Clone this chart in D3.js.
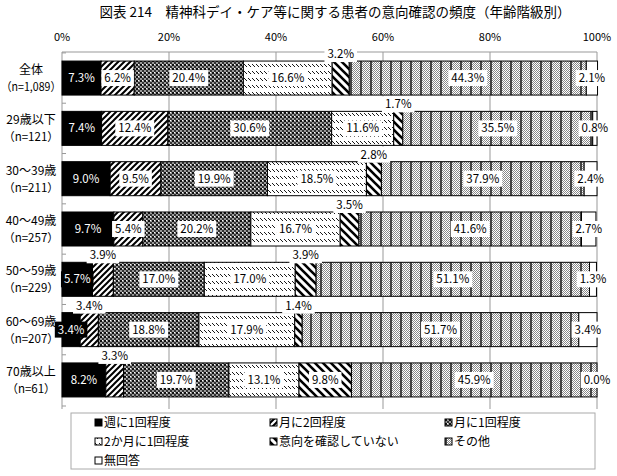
<!DOCTYPE html>
<html>
<head>
<meta charset="utf-8">
<script src="https://cdn.jsdelivr.net/npm/d3@7"></script>
<style>
body { margin: 0; background: #fff; }
text { font-family: "Noto Sans CJK JP", "Noto Sans", sans-serif; }
</style>
</head>
<body>
<svg id="chart" width="617" height="476"></svg>
<script>
// data
var categories = ["全体", "29歳以下", "30～39歳", "40～49歳", "50～59歳", "60～69歳", "70歳以上"];
var counts = ["（n=1,089）", "（n=121）", "（n=211）", "（n=257）", "（n=229）", "（n=207）", "（n=61）"];
var seriesNames = ["週に1回程度", "月に2回程度", "月に1回程度", "2か月に1回程度", "意向を確認していない", "その他", "無回答"];
var weekly   = [7.3, 7.4, 9.0, 9.7, 5.7, 3.4, 8.2];
var twiceMon = [6.2, 12.4, 9.5, 5.4, 3.9, 3.4, 3.3];
var onceMon  = [20.4, 30.6, 19.9, 20.2, 17.0, 18.8, 19.7];
var bimonth  = [16.6, 11.6, 18.5, 16.7, 17.0, 17.9, 13.1];
var notAsked = [3.2, 1.7, 2.8, 3.5, 3.9, 1.4, 9.8];
var other    = [44.3, 35.5, 37.9, 41.6, 51.1, 51.7, 45.9];
var noAnswer = [2.1, 0.8, 2.4, 2.7, 1.3, 3.4, 0.0];
var tickValues = [0, 20, 40, 60, 80, 100];

var seriesValues = [weekly, twiceMon, onceMon, bimonth, notAsked, other, noAnswer];

var svg = d3.select("#chart");
var defs = svg.append("defs");

// fill patterns, one per series
function pat(id, w, h, build){
    var p = defs.append("pattern").attr("id", id)
        .attr("patternUnits", "userSpaceOnUse")
        .attr("width", w).attr("height", h);
    build(p);
}
pat("p1", 6, 6, function(p){
    p.append("rect").attr("width", 6).attr("height", 6).attr("fill", "#fff");
    p.append("path").attr("d", "M-1,7 L7,-1 M-4,4 L4,-4 M2,10 L10,2")
        .attr("stroke", "#000").attr("stroke-width", 2);
});
pat("p2", 4, 4, function(p){
    p.append("rect").attr("width", 4).attr("height", 4).attr("fill", "#999");
    p.append("rect").attr("width", 2).attr("height", 2).attr("fill", "#111");
    p.append("rect").attr("x", 2).attr("y", 2).attr("width", 2).attr("height", 2).attr("fill", "#333");
    p.append("rect").attr("x", 2).attr("y", 0).attr("width", 1).attr("height", 1).attr("fill", "#fff");
});
pat("p3", 4, 7, function(p){
    p.append("rect").attr("width", 4).attr("height", 7).attr("fill", "#fff");
    p.append("path").attr("d", "M0,1 L3,4")
        .attr("stroke", "#000").attr("stroke-width", 0.9);
});
pat("p4", 8, 8, function(p){
    p.append("rect").attr("width", 8).attr("height", 8).attr("fill", "#fff");
    p.append("path").attr("d", "M-2,2 L2,-2 M0,0 L8,8 M-4,4 L4,12 M4,-4 L12,4")
        .attr("stroke", "#000").attr("stroke-width", 2.6);
});
pat("p5", 10, 2, function(p){
    p.append("rect").attr("width", 10).attr("height", 2).attr("fill", "#fff");
    [0, 2, 4, 6, 8].forEach(function(x){
        p.append("rect").attr("x", x).attr("y", 0).attr("width", 1).attr("height", 1).attr("fill", "#888");
        p.append("rect").attr("x", x + 1).attr("y", 1).attr("width", 1).attr("height", 1).attr("fill", "#888");
    });
    p.append("rect").attr("x", 0).attr("y", 0).attr("width", 2).attr("height", 2).attr("fill", "#444");
});
var fills = ["#000", "url(#p1)", "url(#p2)", "url(#p3)", "url(#p4)", "url(#p5)", "#fff"];

var x = d3.scaleLinear().domain([0, 100]).range([62, 597]);
var y = d3.scaleBand().domain(categories).range([52, 406])
    .paddingInner(0.324).paddingOuter(0.18);

// title
svg.append("text")
    .attr("x", 335).attr("y", 17)
    .attr("text-anchor", "middle")
    .style("font-size", "13.5px").style("font-weight", "normal")
    .text("図表 214　精神科デイ・ケア等に関する患者の意向確認の頻度（年齢階級別）");

// gridlines + top axis labels
svg.append("g").selectAll("line")
    .data(tickValues).enter().append("line")
    .attr("x1", function(d){ return x(d); })
    .attr("x2", function(d){ return x(d); })
    .attr("y1", 52).attr("y2", 409)
    .attr("stroke", "#999").attr("stroke-width", 1);
svg.append("line")
    .attr("x1", x(0)).attr("x2", x(100)).attr("y1", 52).attr("y2", 52)
    .attr("stroke", "#999");
svg.append("g").selectAll("line")
    .data(categories.concat([""])).enter().append("line")
    .attr("x1", x(0)).attr("x2", x(0) + 4)
    .attr("y1", function(d, i){ return i < categories.length ? y(d) - y.step() * y.paddingInner() / 2 : 406; })
    .attr("y2", function(d, i){ return i < categories.length ? y(d) - y.step() * y.paddingInner() / 2 : 406; })
    .attr("stroke", "#999");
svg.append("g").selectAll("text")
    .data(tickValues).enter().append("text")
    .attr("x", function(d){ return x(d); })
    .attr("y", 41)
    .attr("text-anchor", "middle")
    .style("font-size", "11px")
    .text(function(d){ return d + "%"; });

// category labels
var cat = svg.append("g").selectAll("g")
    .data(categories).enter().append("g");
cat.append("text")
    .attr("x", 31).attr("y", function(d){ return y(d) + y.bandwidth() / 2 - 4; })
    .attr("text-anchor", "middle").style("font-size", "12px")
    .text(function(d){ return d; });
cat.append("text")
    .attr("x", 31).attr("y", function(d){ return y(d) + y.bandwidth() / 2 + 13; })
    .attr("text-anchor", "middle").style("font-size", "11.5px")
    .text(function(d, i){ return counts[i]; })
    .each(function(){
        // squeeze long labels so they stay inside the left margin
        if (this.getComputedTextLength() > 60) {
            d3.select(this).attr("textLength", 60).attr("lengthAdjust", "spacingAndGlyphs");
        }
    });

// stacked segments
var segs = [];
categories.forEach(function(c, i){
    var acc = 0;
    seriesValues.forEach(function(vals, s){
        segs.push({cat: c, s: s, v: vals[i], x0: acc, x1: acc + vals[i]});
        acc += vals[i];
    });
});

svg.append("g").selectAll("rect")
    .data(segs).enter().append("rect")
    .attr("x", function(d){ return x(d.x0); })
    .attr("y", function(d){ return y(d.cat); })
    .attr("width", function(d){ return x(d.x1) - x(d.x0); })
    .attr("height", y.bandwidth())
    .attr("fill", function(d){ return fills[d.s]; })
    .attr("stroke", "#000").attr("stroke-width", 1);

// data labels
var labels = svg.append("g").selectAll("g")
    .data(segs).enter().append("g")
    .attr("transform", function(d){
        var above = d.s >= 1 && d.s <= 4 && d.v < 5;
        var cy = above ? y(d.cat) - 7 : y(d.cat) + y.bandwidth() / 2;
        return "translate(" + x((d.x0 + d.x1) / 2) + "," + cy + ")";
    });
var lbox = labels.append("rect")
    .attr("fill", function(d){ return d.s === 0 ? "#000" : "#fff"; });
labels.append("text")
    .attr("text-anchor", "middle").attr("dy", "0.35em")
    .style("font-size", "11.5px")
    .style("fill", function(d){ return d.s === 0 ? "#fff" : "#000"; })
    .text(function(d){ return d.v.toFixed(1) + "%"; })
    .each(function(){
        var w = this.getComputedTextLength() + 6;
        d3.select(this.parentNode).select("rect")
            .attr("x", -w / 2).attr("y", -8).attr("width", w).attr("height", 16);
    });

// legend
svg.append("rect")
    .attr("x", 71).attr("y", 413).attr("width", 524).attr("height", 56)
    .attr("fill", "#fff").attr("stroke", "#aaa");
var leg = svg.append("g").selectAll("g")
    .data(seriesNames).enter().append("g")
    .attr("transform", function(d, i){
        return "translate(" + (95 + (i % 3) * 175) + "," + (423 + Math.floor(i / 3) * 19) + ")";
    });
leg.append("rect")
    .attr("x", 0).attr("y", -4).attr("width", 7).attr("height", 7)
    .attr("fill", function(d, i){ return fills[i]; })
    .attr("stroke", "#000").attr("stroke-width", 1);
leg.append("text")
    .attr("x", 9).attr("dy", "0.35em")
    .style("font-size", "12px")
    .text(function(d){ return d; });
</script>
</body>
</html>
